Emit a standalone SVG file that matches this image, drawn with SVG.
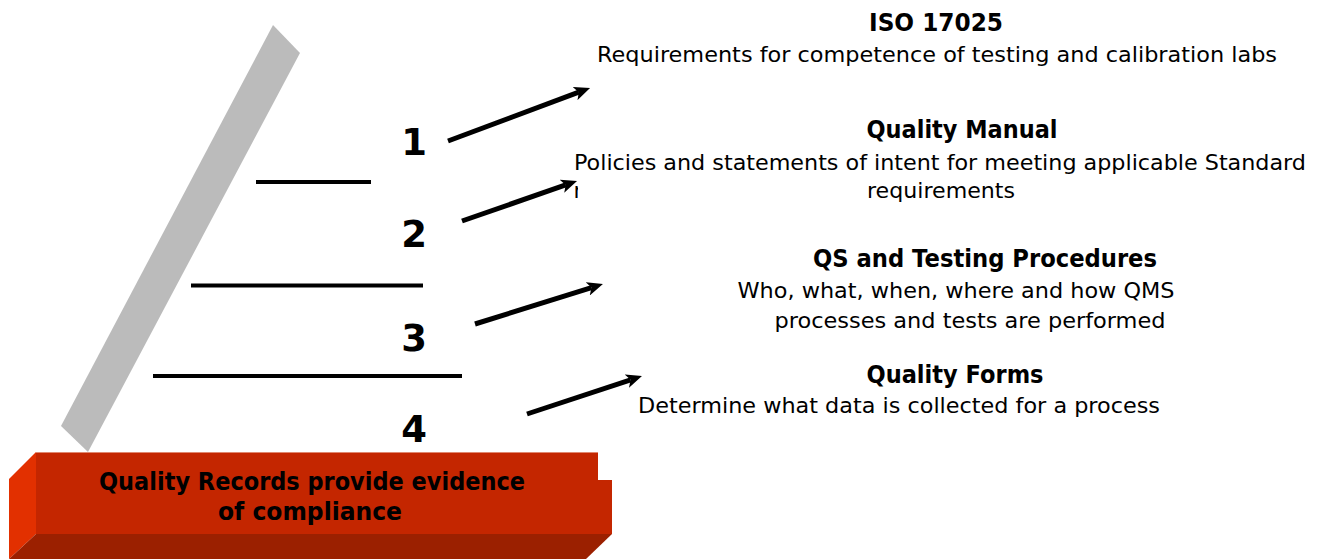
<svg xmlns="http://www.w3.org/2000/svg" width="1322" height="559" viewBox="0 0 1322 559">
<style>
.t{font-family:Tahoma,"DejaVu Sans","Liberation Sans",sans-serif;fill:#000;text-anchor:middle}
.r{font-size:22px}
.b{font-size:24px;font-weight:bold}
.n{font-size:37px;font-weight:bold}
.rule{stroke:#000;stroke-width:4}
.arr{stroke:#000;stroke-width:5;fill:none;marker-end:url(#ah)}
</style>
<defs>
<marker id="ah" markerUnits="userSpaceOnUse" markerWidth="16" markerHeight="14" refX="4" refY="7" orient="auto" viewBox="0 0 16 14">
<path d="M0,0 L16,7 L0,14 L4,7 z" fill="#000"/>
</marker>
<clipPath id="rc"><rect x="572" y="180" width="6" height="22"/></clipPath>
</defs>
<rect width="1322" height="559" fill="#fff"/>
<g id="bar">
<polygon points="273,25 300,53 88,452 61,426" fill="#bbbbbb"/>
</g>
<g id="rules">
<line class="rule" x1="256" y1="182" x2="371" y2="182"/>
<line class="rule" x1="191" y1="285.5" x2="423" y2="285.5"/>
<line class="rule" x1="153" y1="376" x2="462" y2="376"/>
</g>
<g id="levels">
<text class="t n" x="414" y="155">1</text>
<text class="t n" x="414" y="247">2</text>
<text class="t n" x="414" y="351">3</text>
<text class="t n" x="414" y="442">4</text>
</g>
<g id="connectors">
<path class="arr" d="M448,141 L578.8,92.2"/>
<path class="arr" d="M462,221 L565.7,184.9"/>
<path class="arr" d="M475,324 L591.5,287.6"/>
<path class="arr" d="M527,414 L630.6,379.8"/>
</g>
<g id="iso17025">
<text class="t b" x="936" y="31" textLength="134" lengthAdjust="spacingAndGlyphs">ISO 17025</text>
<text class="t r" x="937" y="62" textLength="680" lengthAdjust="spacingAndGlyphs">Requirements for competence of testing and calibration labs</text>
</g>
<g id="quality-manual">
<text class="t b" x="962" y="138" textLength="191" lengthAdjust="spacingAndGlyphs">Quality Manual</text>
<text class="t r" x="940" y="170" textLength="732" lengthAdjust="spacingAndGlyphs">Policies and statements of intent for meeting applicable Standard</text>
<text class="t r" x="941" y="198" textLength="148" lengthAdjust="spacingAndGlyphs">requirements</text>
<g clip-path="url(#rc)"><text class="t r" x="578" y="198">r</text></g>
</g>
<g id="procedures">
<text class="t b" x="985" y="267" textLength="344" lengthAdjust="spacingAndGlyphs">QS and Testing Procedures</text>
<text class="t r" x="956" y="298" textLength="437" lengthAdjust="spacingAndGlyphs">Who, what, when, where and how QMS</text>
<text class="t r" x="970" y="328" textLength="391" lengthAdjust="spacingAndGlyphs">processes and tests are performed</text>
</g>
<g id="forms">
<text class="t b" x="955" y="383" textLength="177" lengthAdjust="spacingAndGlyphs">Quality Forms</text>
<text class="t r" x="899" y="413" textLength="522" lengthAdjust="spacingAndGlyphs">Determine what data is collected for a process</text>
</g>
<g id="records">
<polygon points="9,479 36,452 36,534 9,559" fill="#e23000"/>
<polygon points="36,452 598,452 598,480 612,480 612,534 36,534" fill="#c42600"/>
<polygon points="36,534 612,534 586,559 9,559" fill="#9b2000"/>
<line x1="36" y1="452.5" x2="598" y2="452.5" stroke="#e08870" stroke-width="1"/>
<text class="t b" x="312" y="490" textLength="426" lengthAdjust="spacingAndGlyphs">Quality Records provide evidence</text>
<text class="t b" x="310" y="520" textLength="184" lengthAdjust="spacingAndGlyphs">of compliance</text>
</g>
</svg>
